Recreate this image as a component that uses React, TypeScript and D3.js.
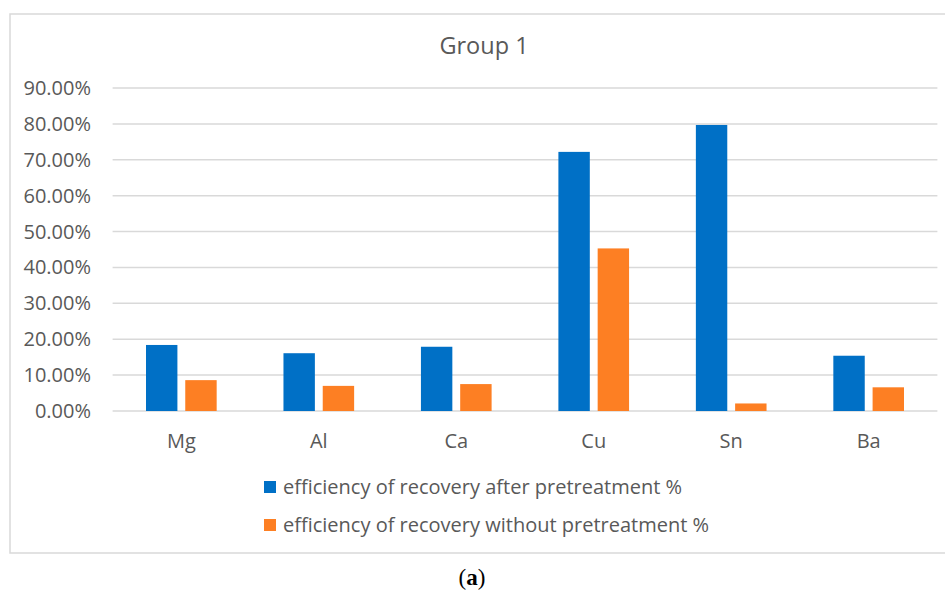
import React from "react";
import * as d3 from "d3";

const categories = ["Mg", "Al", "Ca", "Cu", "Sn", "Ba"];
const afterPretreatment = [0.184, 0.161, 0.179, 0.722, 0.797, 0.154];
const withoutPretreatment = [0.086, 0.070, 0.075, 0.453, 0.021, 0.066];
const yTicks = [0, 0.1, 0.2, 0.3, 0.4, 0.5, 0.6, 0.7, 0.8, 0.9];
const seriesNames = [
  "efficiency of recovery after pretreatment %",
  "efficiency of recovery without pretreatment %",
];
const colors = ["#0070c6", "#fd7f23"];
const title = "Group 1";

const W = 945;
const H = 590;
const font = "'Open Sans', sans-serif";
const textColor = "#595959";

export default function App() {
  const x = d3.scaleBand<string>().domain(categories).range([112.6, 937.4]);
  const inner = d3
    .scaleBand<number>()
    .domain([0, 1])
    .range([33.4, x.bandwidth() - 33.4])
    .paddingInner(0.2);
  const y = d3.scaleLinear().domain([0, 0.9]).range([411, 88]);
  const fmt = d3.format(".2%");
  const series = [afterPretreatment, withoutPretreatment];

  return (
    <svg
      width={W}
      height={H}
      style={{ position: "absolute", left: 0, top: 0, background: "#fff" }}
    >
      <rect x={10} y={14} width={960} height={539} fill="#fff" stroke="#d9d9d9" strokeWidth={1.5} />
      <text
        x={484}
        y={46}
        dy="0.35em"
        textAnchor="middle"
        fontFamily={font}
        fontSize={23.5}
        fill={textColor}
      >
        {title}
      </text>
      {yTicks.map((t) => (
        <g key={t}>
          <line x1={112.6} x2={937.4} y1={y(t)} y2={y(t)} stroke="#d9d9d9" strokeWidth={1.5} />
          <text
            x={91}
            y={y(t)}
            dy="0.35em"
            textAnchor="end"
            fontFamily={font}
            fontSize={20}
            fill={textColor}
          >
            {fmt(t)}
          </text>
        </g>
      ))}
      {series.map((vals, si) =>
        vals.map((v, i) => (
          <rect
            key={`${si}-${i}`}
            x={(x(categories[i]) ?? 0) + (inner(si) ?? 0)}
            y={y(v)}
            width={inner.bandwidth()}
            height={y(0) - y(v)}
            fill={colors[si]}
          />
        ))
      )}
      {categories.map((c) => (
        <text
          key={c}
          x={(x(c) ?? 0) + x.bandwidth() / 2}
          y={441}
          dy="0.35em"
          textAnchor="middle"
          fontFamily={font}
          fontSize={20}
          fill={textColor}
        >
          {c}
        </text>
      ))}
      {seriesNames.map((s, i) => (
        <g key={s}>
          <rect x={264} y={481 + i * 38} width={12} height={12} fill={colors[i]} />
          <text
            x={283}
            y={487 + i * 38}
            dy="0.35em"
            fontFamily={font}
            fontSize={20}
            fill={textColor}
          >
            {s}
          </text>
        </g>
      ))}
      <text
        x={472}
        y={577}
        dy="0.35em"
        textAnchor="middle"
        fontFamily="'Liberation Serif', serif"
        fontSize={23}
        fill="#000"
      >
        <tspan>(</tspan>
        <tspan fontWeight="bold">a</tspan>
        <tspan>)</tspan>
      </text>
    </svg>
  );
}
